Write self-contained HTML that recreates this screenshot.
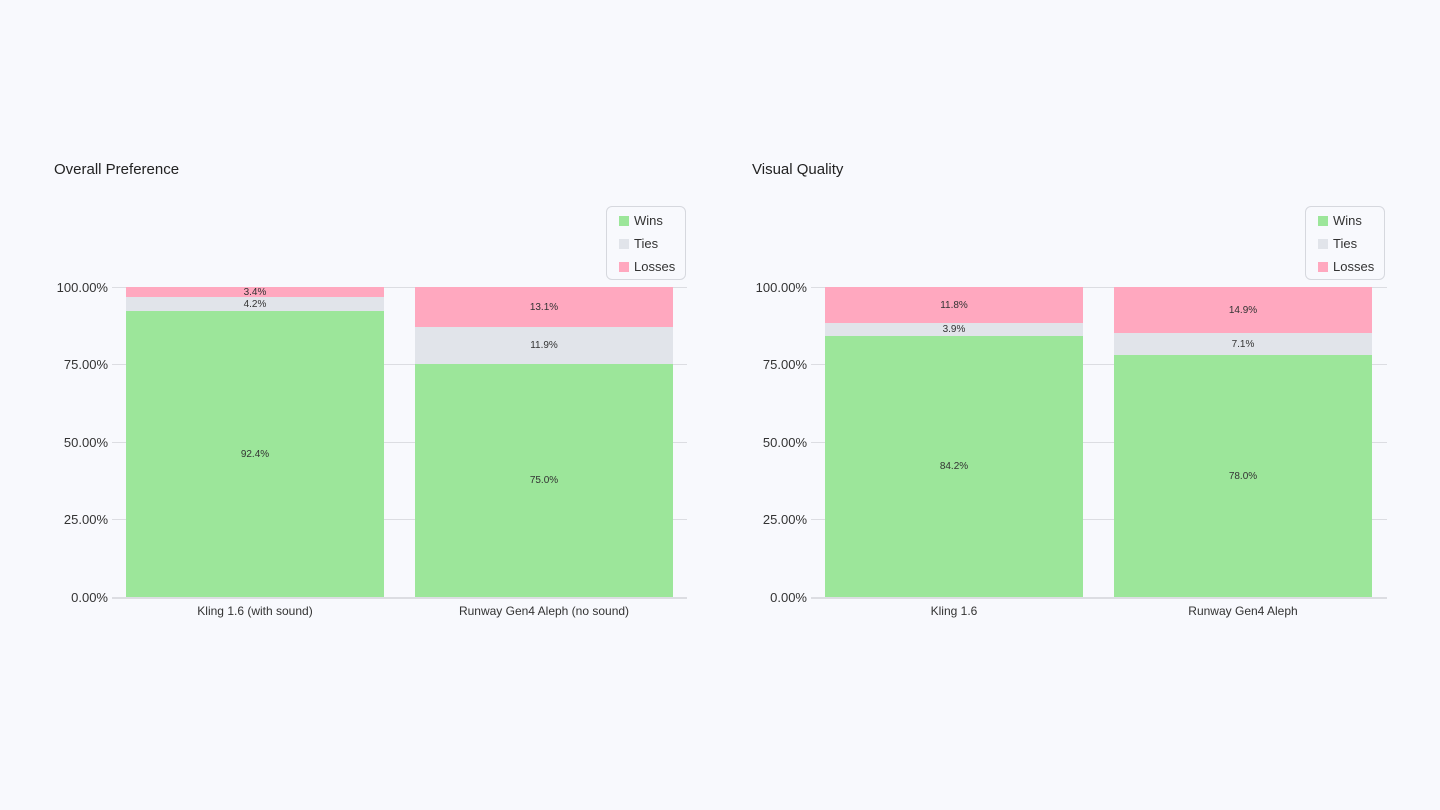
<!DOCTYPE html><html><head><style>
body{margin:0;width:1440px;height:810px;background:#f8f9fd;font-family:"Liberation Sans",sans-serif;position:relative;overflow:hidden;color:#222}
div{position:absolute}
.t{font-size:15px;color:#222}
.g{height:1px;background:#dcdde2}
.yl{font-size:13px;color:#333;text-align:right;width:80px}
.seg{display:flex;align-items:center;justify-content:center;font-size:10px;color:#333}
.w{background:#9ce69a}.ti{background:#e1e4ea}.l{background:#ffa8bf}
.xl{font-size:12px;color:#333;text-align:center;width:300px}
.lg{border:1px solid #d6d8de;border-radius:6px;background:#f8f9fd;width:78px;height:72px}
.li{position:absolute;left:12px;font-size:13px;color:#333}
.li span{display:inline-block;width:10px;height:10px;margin-right:5px;vertical-align:-1px}
</style></head><body>
<div class="t" style="left:54px;top:161px">Overall Preference</div>
<div class="t" style="left:752px;top:161px">Visual Quality</div>

<!-- left chart -->
<div class="g" style="left:112px;top:287px;width:575px"></div>
<div class="g" style="left:112px;top:364px;width:575px"></div>
<div class="g" style="left:112px;top:442px;width:575px"></div>
<div class="g" style="left:112px;top:519px;width:575px"></div>
<div class="g" style="left:112px;top:597px;width:575px;height:2px"></div>
<div class="yl" style="left:28px;top:280px">100.00%</div>
<div class="yl" style="left:28px;top:357px">75.00%</div>
<div class="yl" style="left:28px;top:435px">50.00%</div>
<div class="yl" style="left:28px;top:512px">25.00%</div>
<div class="yl" style="left:28px;top:590px">0.00%</div>
<div class="seg l" style="left:126px;top:287px;width:258px;height:10px">3.4%</div>
<div class="seg ti" style="left:126px;top:297px;width:258px;height:14px">4.2%</div>
<div class="seg w" style="left:126px;top:311px;width:258px;height:286px">92.4%</div>
<div class="seg l" style="left:415px;top:287px;width:258px;height:40px">13.1%</div>
<div class="seg ti" style="left:415px;top:327px;width:258px;height:37px">11.9%</div>
<div class="seg w" style="left:415px;top:364px;width:258px;height:233px">75.0%</div>
<div class="xl" style="left:105px;top:604px">Kling 1.6 (with sound)</div>
<div class="xl" style="left:394px;top:604px">Runway Gen4 Aleph (no sound)</div>
<div class="lg" style="left:606px;top:206px">
<div class="li" style="top:6px"><span class="w"></span>Wins</div>
<div class="li" style="top:29px"><span class="ti"></span>Ties</div>
<div class="li" style="top:52px"><span class="l"></span>Losses</div></div>

<!-- right chart -->
<div class="g" style="left:811px;top:287px;width:576px"></div>
<div class="g" style="left:811px;top:364px;width:576px"></div>
<div class="g" style="left:811px;top:442px;width:576px"></div>
<div class="g" style="left:811px;top:519px;width:576px"></div>
<div class="g" style="left:811px;top:597px;width:576px;height:2px"></div>
<div class="yl" style="left:727px;top:280px">100.00%</div>
<div class="yl" style="left:727px;top:357px">75.00%</div>
<div class="yl" style="left:727px;top:435px">50.00%</div>
<div class="yl" style="left:727px;top:512px">25.00%</div>
<div class="yl" style="left:727px;top:590px">0.00%</div>
<div class="seg l" style="left:825px;top:287px;width:258px;height:36px">11.8%</div>
<div class="seg ti" style="left:825px;top:323px;width:258px;height:13px">3.9%</div>
<div class="seg w" style="left:825px;top:336px;width:258px;height:261px">84.2%</div>
<div class="seg l" style="left:1114px;top:287px;width:258px;height:46px">14.9%</div>
<div class="seg ti" style="left:1114px;top:333px;width:258px;height:22px">7.1%</div>
<div class="seg w" style="left:1114px;top:355px;width:258px;height:242px">78.0%</div>
<div class="xl" style="left:804px;top:604px">Kling 1.6</div>
<div class="xl" style="left:1093px;top:604px">Runway Gen4 Aleph</div>
<div class="lg" style="left:1305px;top:206px">
<div class="li" style="top:6px"><span class="w"></span>Wins</div>
<div class="li" style="top:29px"><span class="ti"></span>Ties</div>
<div class="li" style="top:52px"><span class="l"></span>Losses</div></div>
</body></html>
